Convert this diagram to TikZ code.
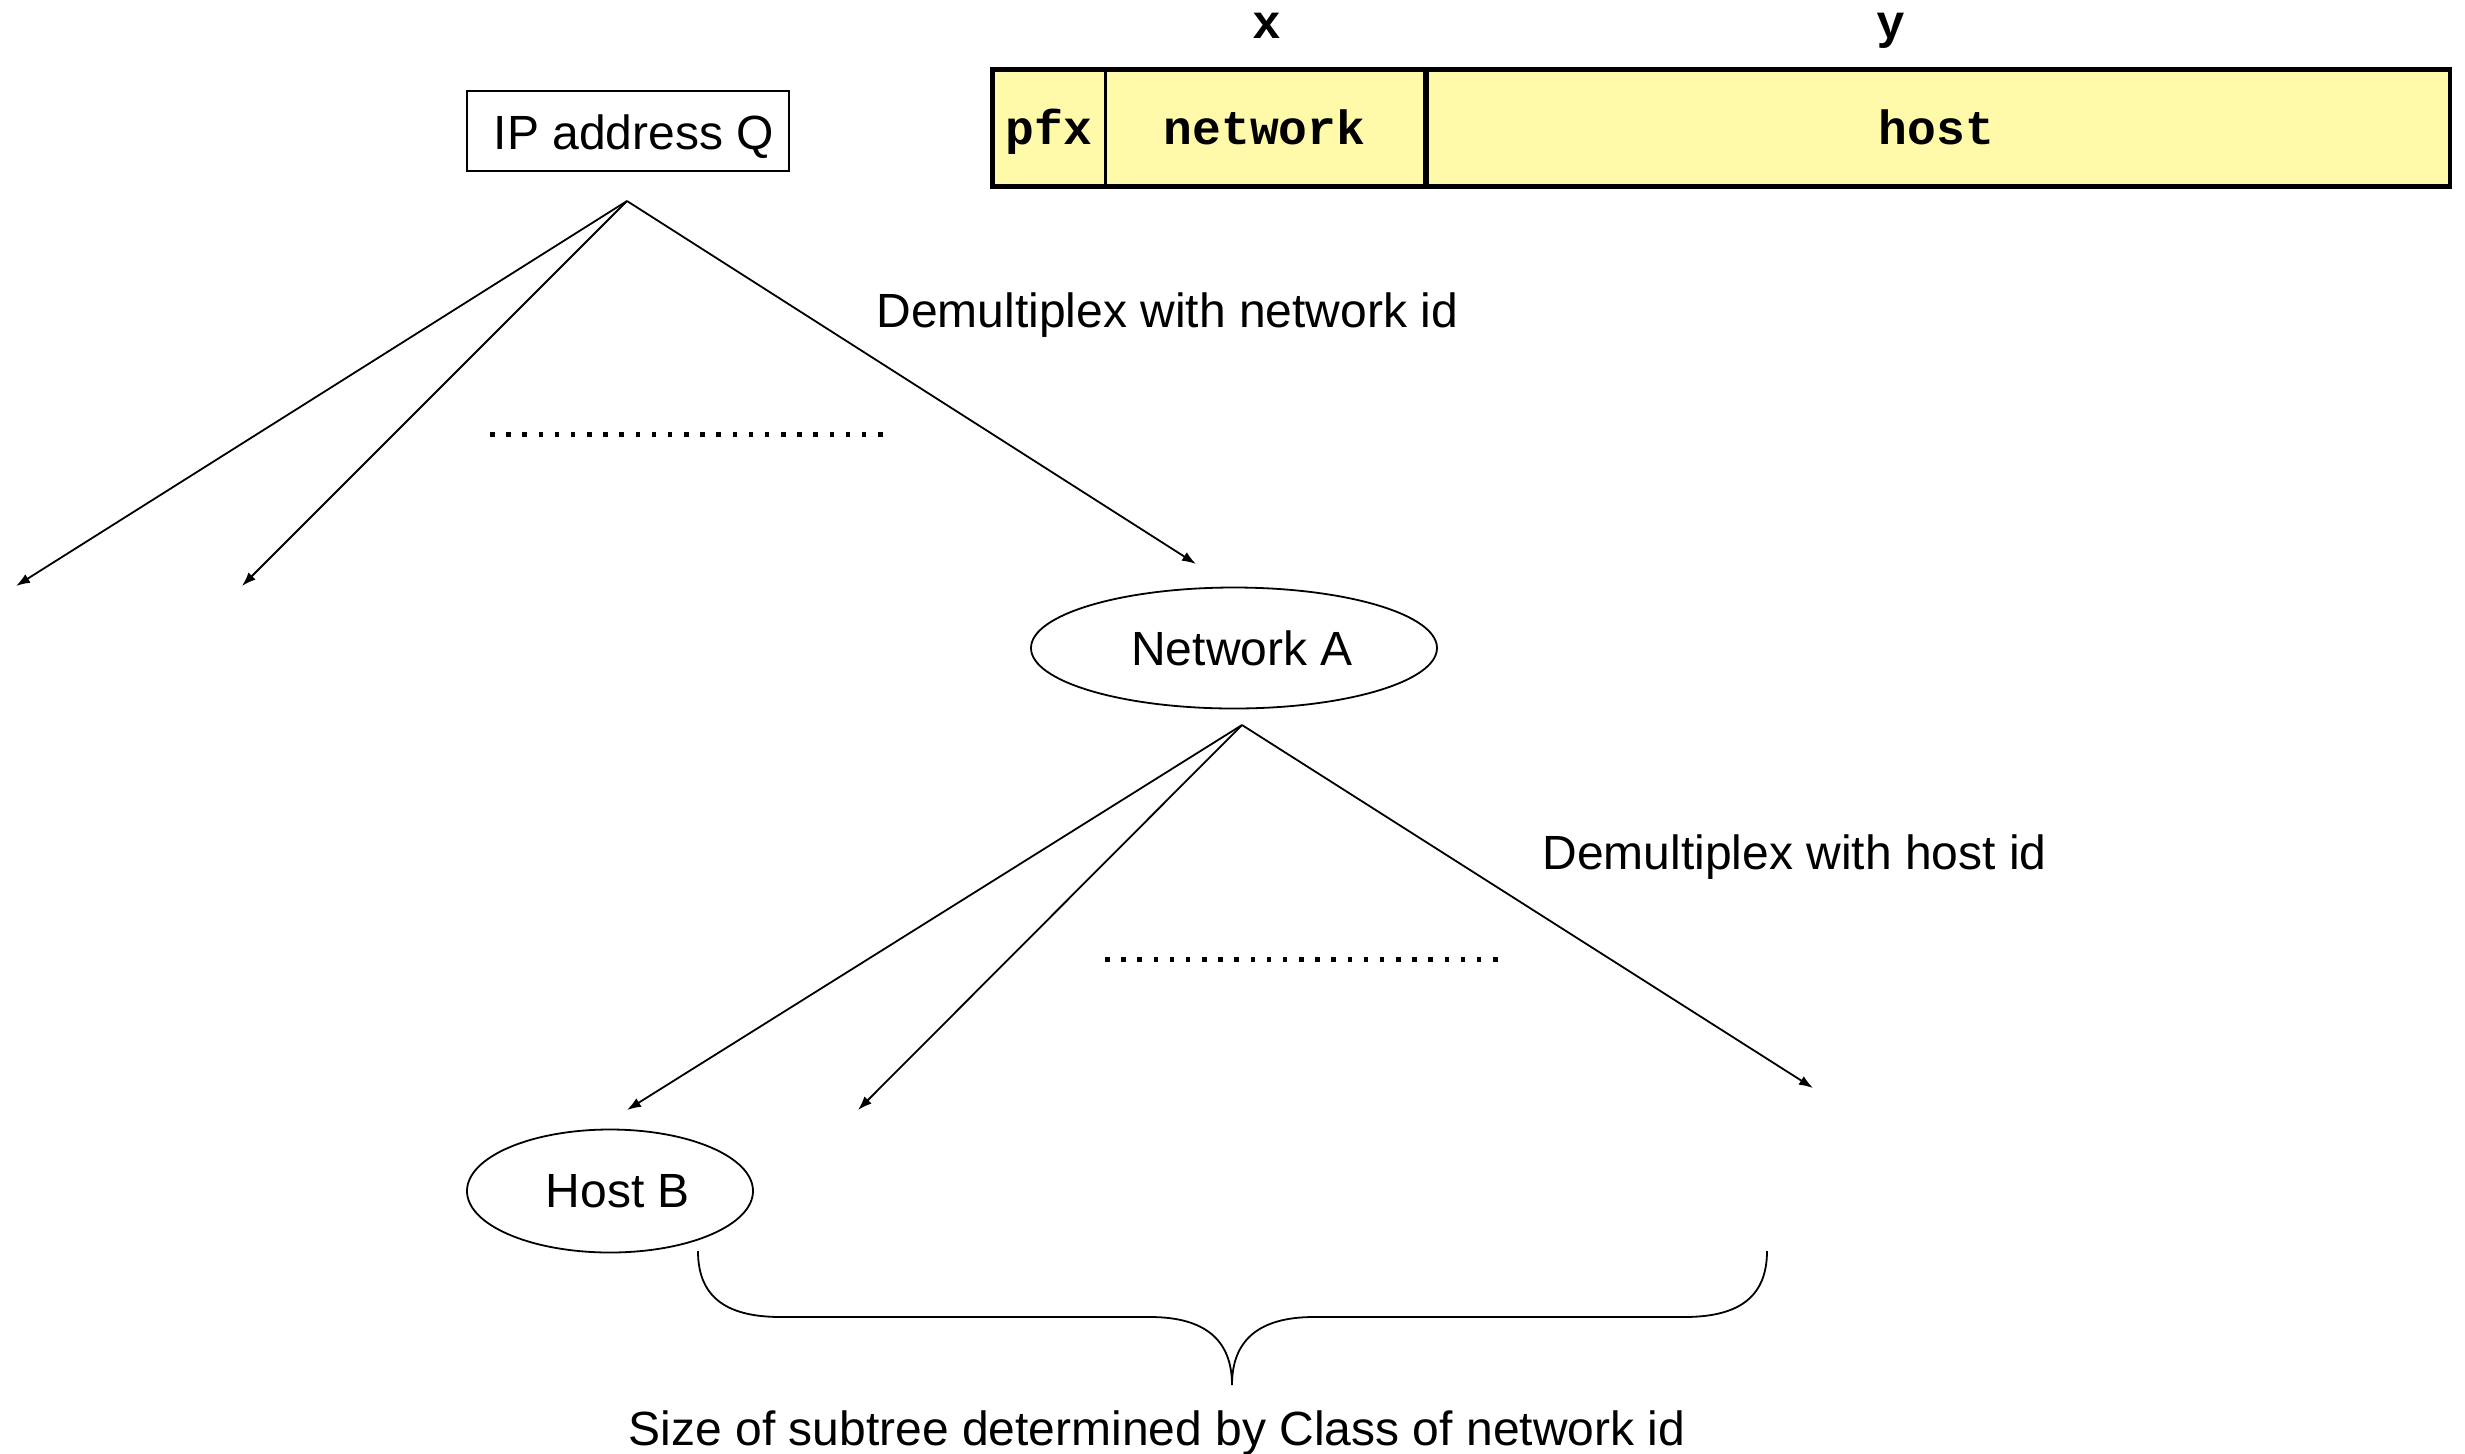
\documentclass[tikz,border=0pt]{standalone}
\usepackage{fontspec}
\setmainfont{Liberation Sans}
\setmonofont{Liberation Mono}
\usetikzlibrary{shapes.geometric,arrows.meta}
\definecolor{fieldfill}{HTML}{FFFAAA}
\begin{document}
\begin{tikzpicture}[x=0.5pt,y=-0.5pt,
  every node/.style={font=\fontsize{24}{28}\selectfont},
  field/.style={draw, line width=1.5pt, fill=fieldfill, minimum height=57.5pt,
    inner sep=0pt, text height=17pt, text depth=1pt,
    font=\fontsize{24}{28}\selectfont\ttfamily\bfseries},
  fieldlabel/.style={anchor=base, inner sep=0pt,
    font=\fontsize{24}{28}\selectfont\ttfamily\bfseries},
  addrbox/.style={draw, line width=0.9pt, minimum width=161pt, minimum height=40pt,
    inner sep=0pt, text height=18pt, text depth=0pt},
  treenode/.style={draw, ellipse, line width=0.9pt, inner sep=0pt},
  label text/.style={inner sep=0pt},
  branch/.style={line width=0.9pt, -{Latex[length=7pt,width=5pt]}},
  brace line/.style={line width=0.9pt}
]
\useasboundingbox (0,0) rectangle (2465,1453);

% address layout: prefix | network | host
\node[field, minimum width=56pt]    (pfx)  at (1049,128)   {pfx};
\node[field, minimum width=159.5pt] (net)  at (1264.5,128) {network};
\node[field, minimum width=512.5pt] (host) at (1936.5,128) {host};
\draw[line width=3pt] (net.north east) -- (net.south east);
\draw[line width=1.8pt] (pfx.north west) rectangle (host.south east);
\node[fieldlabel] (xlab) at (1267,38) {x};
\node[fieldlabel] (ylab) at (1891,38) {y};

% first level: demultiplex on the network id
\node[addrbox] (addr) at (628,131) {\hspace*{6pt}IP address Q};
\coordinate (qfork) at (627,201);
\coordinate (netL1) at (16,586);
\coordinate (netL2) at (242,586);
\coordinate (netA in) at (1196,564);
\draw[branch] (qfork) -- (netL1);
\draw[branch] (qfork) -- (netL2);
\draw[branch] (qfork) -- (netA in);
\foreach \i in {0,...,24}
  \fill ({490+\i*16.17},432) rectangle ++(4.5,4.5);
\node[label text, anchor=base west] (demuxnet) at (876,327) {Demultiplex with network id};

% second level: demultiplex on the host id
\node[treenode, minimum width=203pt, minimum height=60.5pt] (netA) at (1234,648) {\hspace*{8pt}Network A};
\coordinate (afork) at (1242,725);
\coordinate (hostB in) at (627,1110);
\coordinate (hostL2) at (858,1110);
\coordinate (hostL3) at (1813,1088);
\draw[branch] (afork) -- (hostB in);
\draw[branch] (afork) -- (hostL2);
\draw[branch] (afork) -- (hostL3);
\foreach \i in {0,...,24}
  \fill ({1105+\i*16.17},957) rectangle ++(4.5,4.5);
\node[label text, anchor=base west] (demuxhost) at (1542,869) {Demultiplex with host id};

\node[treenode, minimum width=143pt, minimum height=61.5pt] (hostB) at (610,1191) {\hspace*{8pt}Host B};

% brace under the host level
\draw[brace line] (698,1251) .. controls (698,1300) and (730,1317) .. (781,1317)
  -- (1150,1317) .. controls (1205,1317) and (1232,1340) .. (1232,1385)
  .. controls (1232,1340) and (1259,1317) .. (1314,1317)
  -- (1684,1317) .. controls (1735,1317) and (1767,1300) .. (1767,1251);
\node[label text, anchor=base] (caption) at (1157,1445) {Size of subtree determined by Class of network id};
\end{tikzpicture}
\end{document}
